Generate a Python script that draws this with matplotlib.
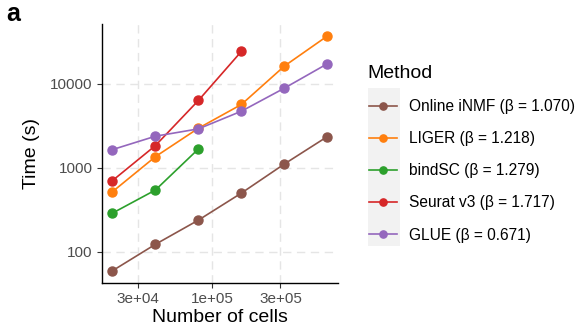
import matplotlib
matplotlib.use("Agg")
import matplotlib.pyplot as plt
from matplotlib.patches import Rectangle
from matplotlib.ticker import FixedLocator, NullLocator

plt.rcParams["font.family"] = ["Liberation Sans", "DejaVu Sans"]

# data
cells = [20000, 40000, 80000, 160000, 320000, 640000]
online_inmf = [59, 122, 237, 498, 1107, 2350]
liger = [516, 1352, 2951, 5665, 16260, 37150]
bindsc = [287, 541, 1671]
seurat_v3 = [700, 1832, 6324, 24330]
glue = [1641, 2370, 2900, 4710, 8870, 17340]

methods = ["Online iNMF", "LIGER", "bindSC", "Seurat v3", "GLUE"]
betas = ["1.070", "1.218", "1.279", "1.717", "0.671"]
series = [online_inmf, liger, bindsc, seurat_v3, glue]
colors = ["#8C564B", "#FF7F0E", "#2CA02C", "#D62728", "#9467BD"]

x_ticks = [3e4, 1e5, 3e5]
x_ticklabels = ["3e+04", "1e+05", "3e+05"]
y_ticks = [100, 1000, 10000]
y_ticklabels = ["100", "1000", "10000"]

fig = plt.figure(figsize=(5.81, 3.34), dpi=100)
ax = fig.add_axes([0.175, 0.1536, 0.407, 0.774])

handles = []
for name, beta, vals, col in zip(methods, betas, series, colors):
    (ln,) = ax.plot(cells[:len(vals)], vals, "-o", color=col, lw=1.2, ms=6.5,
                    label=f"{name} (β = {beta})", zorder=3)
    handles.append(ln)

ax.set_xscale("log")
ax.set_yscale("log")
ax.set_xlim(10 ** 4.226, 10 ** 5.881)
ax.set_ylim(10 ** 1.629, 10 ** 4.71)

ax.xaxis.set_major_locator(FixedLocator(x_ticks))
ax.set_xticklabels(x_ticklabels)
ax.yaxis.set_major_locator(FixedLocator(y_ticks))
ax.set_yticklabels(y_ticklabels)
ax.xaxis.set_minor_locator(NullLocator())
ax.yaxis.set_minor_locator(NullLocator())

ax.tick_params(labelsize=11, labelcolor="#4D4D4D", length=3.5, width=0.8,
               pad=3, color="#333333")
ax.grid(True, color="#E5E5E5", lw=1.0, linestyle=(0, (6, 4)), zorder=0)
ax.set_axisbelow(True)
for side in ("top", "right"):
    ax.spines[side].set_visible(False)
for side in ("left", "bottom"):
    ax.spines[side].set_linewidth(1.0)

ax.set_xlabel("Number of cells", fontsize=14, labelpad=2)
ax.set_ylabel("Time (s)", fontsize=14, labelpad=7)

# legend with grey key background
fig.patches.append(Rectangle((367.7 / 581, 1 - 246 / 334), 32.3 / 581, 158 / 334,
                             transform=fig.transFigure, facecolor="#F2F2F2",
                             edgecolor="none", zorder=0))
leg = fig.legend(handles=handles, loc="upper left",
                 bbox_to_anchor=(369 / 581, 1 - 65 / 334), frameon=False,
                 title="Method", title_fontsize=14, fontsize=11.2,
                 handlelength=1.8, handletextpad=0.8, labelspacing=1.1,
                 markerscale=0.8, borderaxespad=0, borderpad=0,
                 alignment="left")
leg.get_title().set_position((-2, 0))

fig.text(6 / 581, 1 - 21 / 334, "a", fontsize=18, fontweight="bold")

fig.savefig("out.png", dpi=100)
